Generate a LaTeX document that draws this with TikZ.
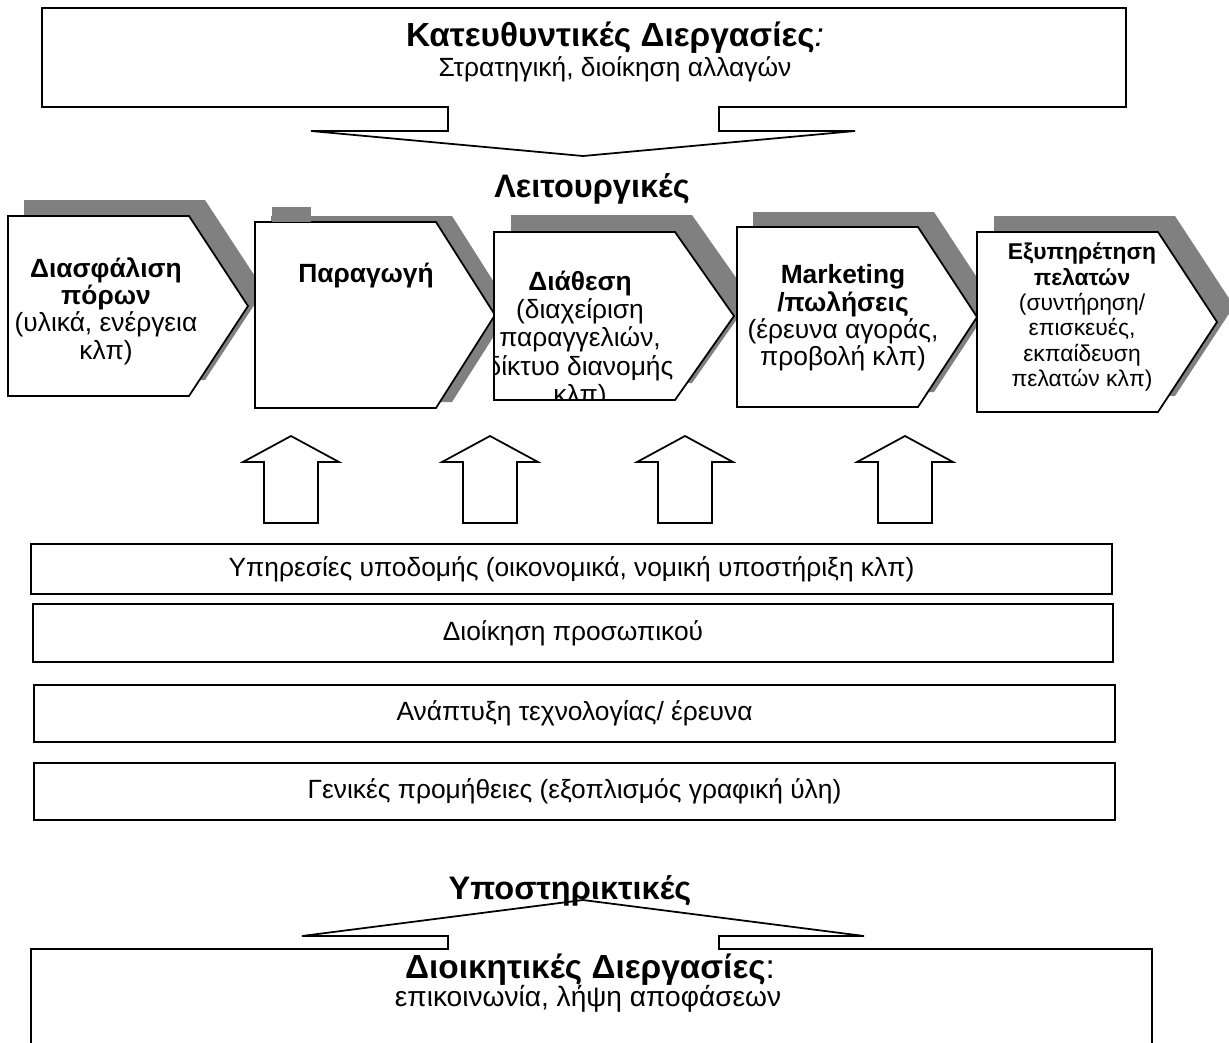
\documentclass[tikz,border=0pt]{standalone}
\usepackage{fontspec}
\setmainfont{Liberation Sans}
\usetikzlibrary{positioning}

\begin{document}
\begin{tikzpicture}[x=0.02cm, y=-0.02cm,
  outline/.style={draw=black, line width=1pt, fill=white},
  shadowfill/.style={fill=black!50},
  chevtext/.style={align=center, inner sep=0pt, font=\fontsize{15}{15.6}\selectfont},
  headtext/.style={inner sep=0pt, font=\fontsize{18.5}{21}\selectfont\bfseries},
  boxtitle/.style={inner sep=0pt, font=\fontsize{19}{22}\selectfont\bfseries},
  boxsub/.style={inner sep=0pt, font=\fontsize{15}{18}\selectfont},
  supbox/.style={draw=black, line width=1.1pt, inner sep=0pt, minimum width=21.62cm, minimum height=1.14cm, font=\fontsize{15}{18}\selectfont}]
\useasboundingbox (0,0) rectangle (1229,1042);
\clip (0,0) rectangle (1229,1042);

% Strategic processes
\draw[outline] (42,8) -- (1126,8) -- (1126,107) -- (719,107) -- (719,131) -- (855,131) -- (583,156) -- (311,131) -- (448,131) -- (448,107) -- (42,107) -- cycle;
\node[boxtitle] (strattitle) at (615,38) {Κατευθυντικές Διεργασίες{\mdseries\itshape :}};
\node[boxsub] (stratsub) at (615,69) {Στρατηγική, διοίκηση αλλαγών};
\node[headtext] (operlabel) at (592,189) {Λειτουργικές};

% Value chain
\foreach \xl/\yt/\yb/\sx/\up in {8/216/396/16/16, 255/222/408/16/6, 494/232/400/17/17, 737/227/407/16/15, 977/232/412/17/16} {
  \fill[shadowfill] (\xl+\sx,\yt-\up) -- (\xl+181+\sx,\yt-\up) -- (\xl+240+\sx,{(\yt+\yb)/2-\up}) -- (\xl+181+\sx,\yb-\up) -- (\xl+\sx,\yb-\up) -- cycle;
  \draw[outline] (\xl,\yt) -- (\xl+181,\yt) -- (\xl+240,{(\yt+\yb)/2}) -- (\xl+181,\yb) -- (\xl,\yb) -- cycle;
}
\fill[shadowfill] (272,207) rectangle (311,222);

\node[chevtext] (supply) at (106,311) {\textbf{Διασφάλιση}\\\textbf{πόρων}\\(υλικά, ενέργεια\\κλπ)};
\node[chevtext] (production) at (366,276) {\textbf{Παραγωγή}};
\begin{scope}
\clip (494,232) -- (675,232) -- (734,316) -- (675,400) -- (494,400) -- cycle;
\node[chevtext, font=\fontsize{15}{16.2}\selectfont] (distribution) at (580,340) {\textbf{Διάθεση}\\(διαχείριση\\παραγγελιών,\\δίκτυο διανομής\\κλπ)};
\end{scope}
\node[chevtext] (marketing) at (843,318) {\textbf{Marketing}\\\textbf{/πωλήσεις}\\(έρευνα αγοράς,\\προβολή κλπ)};
\node[chevtext, font=\fontsize{13}{14.4}\selectfont] (service) at (1082,317) {\textbf{Εξυπηρέτηση}\\\textbf{πελατών}\\(συντήρηση/\\επισκευές,\\εκπαίδευση\\πελατών κλπ)};

% Support arrows
\foreach \cx in {291,490,685,905} {
  \draw[outline] (\cx-27,523) -- (\cx-27,462) -- (\cx-48,462) -- (\cx,436) -- (\cx+48,462) -- (\cx+27,462) -- (\cx+27,523) -- cycle;
}

% Support activities
\node[supbox, minimum height=1.0cm] (infra) at (571.5,569) {Υπηρεσίες υποδομής (οικονομικά, νομική υποστήριξη κλπ)};
\node[supbox, minimum width=21.6cm, minimum height=1.16cm] (staff) at (573,633) {Διοίκηση προσωπικού};
\node[supbox] (techdev) at (574.5,713.5) {Ανάπτυξη τεχνολογίας/ έρευνα};
\node[supbox] (procure) at (574.5,791.5) {Γενικές προμήθειες (εξοπλισμός γραφική ύλη)};

% Administrative processes
\draw[outline] (31,1060) -- (31,949) -- (448,949) -- (448,936) -- (302,936) -- (583,900) -- (864,936) -- (719,936) -- (719,949) -- (1152,949) -- (1152,1060);
\node[headtext] (supplabel) at (570,891) {Υποστηρικτικές};
\node[boxtitle] (admintitle) at (590,970) {Διοικητικές Διεργασίες{\mdseries :}};
\node[boxsub, font=\fontsize{16}{19}\selectfont] (adminsub) at (588,999) {επικοινωνία, λήψη αποφάσεων};
\end{tikzpicture}
\end{document}
